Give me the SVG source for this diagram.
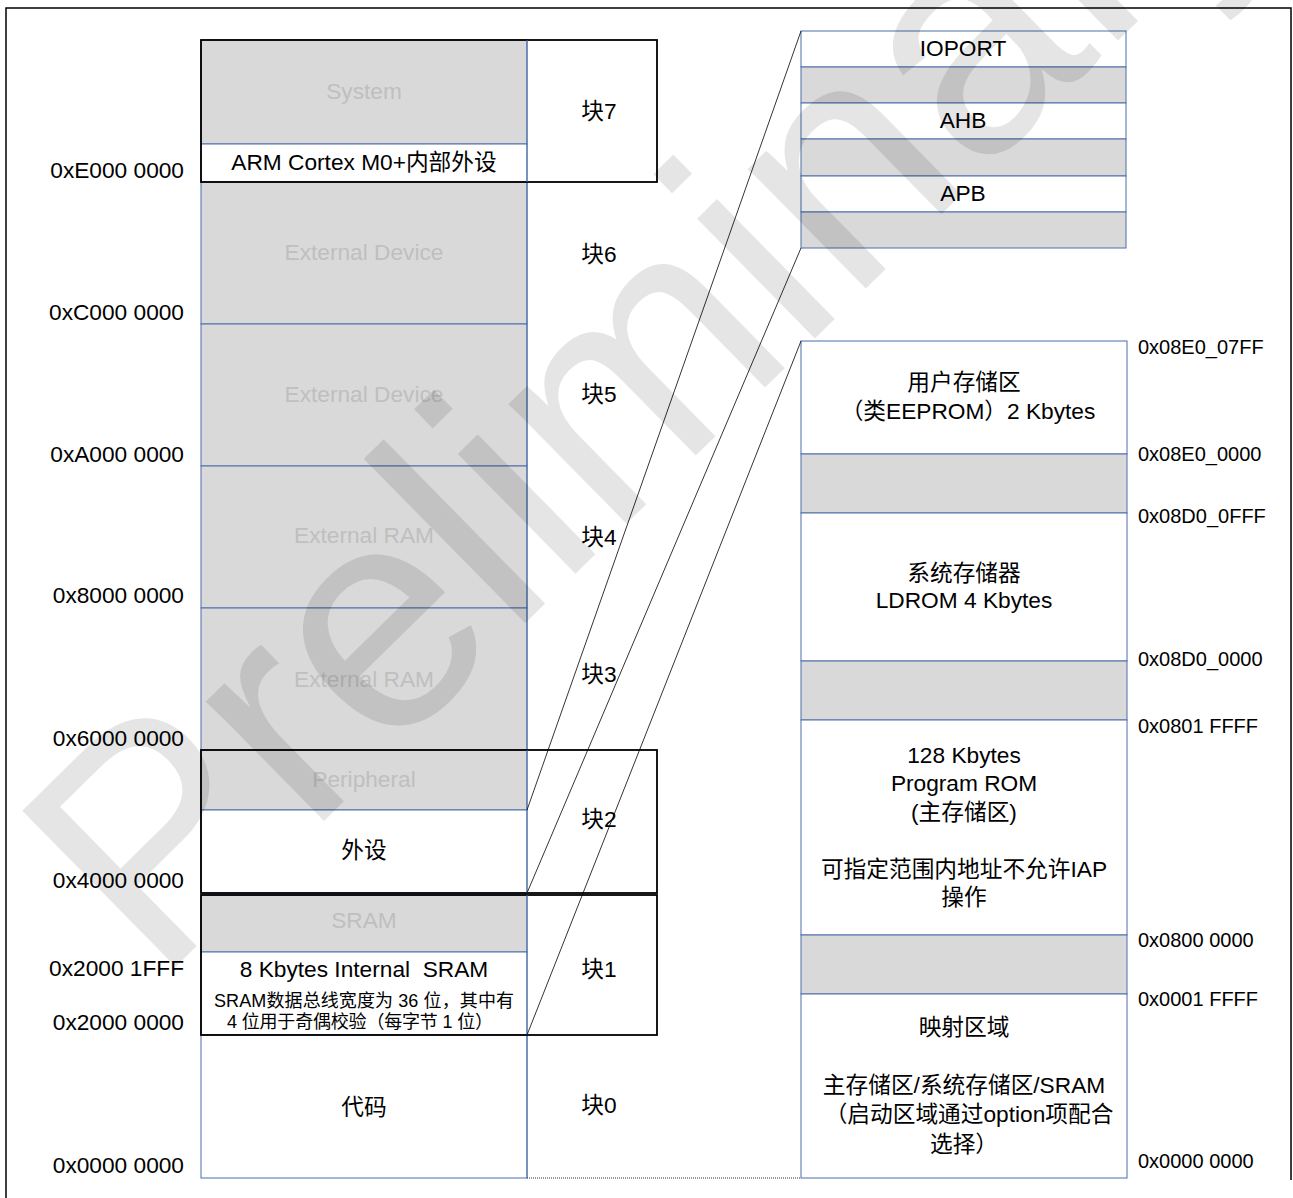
<svg xmlns="http://www.w3.org/2000/svg" width="1293" height="1198" viewBox="0 0 1293 1198">
<style>
text{font-family:"Liberation Sans","Noto Sans CJK SC",sans-serif;fill:#000}
.m{font-size:22.7px;text-anchor:middle}
.a{font-size:22.7px;text-anchor:end}
.r{font-size:20px;text-anchor:start}
.g{fill:#bfbfbf}
.s{font-size:18px;text-anchor:middle}
.gray{fill:#d9d9d9;stroke:#4a6fa8;stroke-width:1}
.wh{fill:#fff;stroke:#4a6fa8;stroke-width:1}
.blk{fill:none;stroke:#000;stroke-width:1.8}
.cn{fill:none;stroke:#000;stroke-width:0.8}
</style>
<rect x="0" y="0" width="1293" height="1198" fill="#fff"/>
<path d="M6 1198V8H1291V1180" fill="none" stroke="#000" stroke-width="1.5"/>

<g id="left-map">
<rect class="gray" x="201" y="40" width="326" height="104"/>
<rect class="wh" x="201" y="144" width="326" height="38"/>
<rect class="gray" x="201" y="182" width="326" height="142"/>
<rect class="gray" x="201" y="324" width="326" height="142"/>
<rect class="gray" x="201" y="466" width="326" height="142"/>
<rect class="gray" x="201" y="608" width="326" height="142"/>
<rect class="gray" x="201" y="750" width="326" height="60"/>
<rect class="wh" x="201" y="810" width="326" height="83"/>
<rect class="gray" x="201" y="895" width="326" height="57"/>
<rect class="wh" x="201" y="952" width="326" height="83"/>
<rect class="wh" x="201" y="1035" width="326" height="143"/>
<line x1="527" y1="182" x2="527" y2="750" stroke="#4a6fa8" stroke-width="1"/>
<line x1="527" y1="1035" x2="527" y2="1178" stroke="#4a6fa8" stroke-width="1"/>
</g>

<g id="block7">
<rect class="blk" x="201" y="40" width="456" height="142"/>
<line x1="527" y1="40" x2="527" y2="182" stroke="#4a6fa8" stroke-width="1"/>
<text class="m g" x="364" y="99">System</text>
<text class="m" x="364" y="170">ARM Cortex M0+内部外设</text>
<text class="m" x="599" y="119">块7</text>
</g>
<g id="block6">
<text class="m g" x="364" y="260">External Device</text>
<text class="m" x="599" y="262">块6</text>
</g>
<g id="block5">
<text class="m g" x="364" y="402">External Device</text>
<text class="m" x="599" y="402">块5</text>
</g>
<g id="block4">
<text class="m g" x="364" y="543">External RAM</text>
<text class="m" x="599" y="545">块4</text>
</g>
<g id="block3">
<text class="m g" x="364" y="687">External RAM</text>
<text class="m" x="599" y="682">块3</text>
</g>
<g id="block2">
<rect class="blk" x="201" y="750" width="456" height="143"/>
<line x1="527" y1="750" x2="527" y2="893" stroke="#4a6fa8" stroke-width="1"/>
<text class="m g" x="364" y="787">Peripheral</text>
<text class="m" x="364" y="858">外设</text>
<text class="m" x="599" y="827">块2</text>
</g>
<g id="block1">
<rect class="blk" x="201" y="895" width="456" height="140"/>
<line x1="527" y1="895" x2="527" y2="1035" stroke="#4a6fa8" stroke-width="1"/>
<text class="m g" x="364" y="928">SRAM</text>
<text class="m" x="364" y="977" xml:space="preserve">8 Kbytes Internal  SRAM</text>
<text class="s" x="364" y="1007" textLength="300">SRAM数据总线宽度为 36 位，其中有</text>
<text class="s" x="360" y="1028" textLength="266">4 位用于奇偶校验（每字节 1 位）</text>
<text class="m" x="599" y="977">块1</text>
</g>
<g id="block0">
<text class="m" x="364" y="1115">代码</text>
<text class="m" x="599" y="1113">块0</text>
</g>

<g id="left-addr">
<text class="a" x="184" y="178">0xE000 0000</text>
<text class="a" x="184" y="320">0xC000 0000</text>
<text class="a" x="184" y="462">0xA000 0000</text>
<text class="a" x="184" y="603">0x8000 0000</text>
<text class="a" x="184" y="746">0x6000 0000</text>
<text class="a" x="184" y="888">0x4000 0000</text>
<text class="a" x="184" y="976">0x2000 1FFF</text>
<text class="a" x="184" y="1030">0x2000 0000</text>
<text class="a" x="184" y="1173">0x0000 0000</text>
</g>

<g id="peripheral-map">
<rect class="wh" x="801" y="31" width="325" height="36"/>
<rect class="gray" x="801" y="67" width="325" height="36"/>
<rect class="wh" x="801" y="103" width="325" height="36"/>
<rect class="gray" x="801" y="139" width="325" height="37"/>
<rect class="wh" x="801" y="176" width="325" height="36"/>
<rect class="gray" x="801" y="212" width="325" height="36"/>
<text class="m" x="963" y="56">IOPORT</text>
<text class="m" x="963" y="128">AHB</text>
<text class="m" x="963" y="201">APB</text>
</g>

<g id="flash-map">
<rect class="wh" x="801" y="341" width="326" height="113"/>
<rect class="gray" x="801" y="454" width="326" height="59"/>
<rect class="wh" x="801" y="513" width="326" height="148"/>
<rect class="gray" x="801" y="661" width="326" height="59"/>
<rect class="wh" x="801" y="720" width="326" height="215"/>
<rect class="gray" x="801" y="935" width="326" height="59"/>
<rect class="wh" x="801" y="994" width="326" height="184"/>
<text class="m" x="964" y="390">用户存储区</text>
<text class="m" x="968" y="419">（类EEPROM）2 Kbytes</text>
<text class="m" x="964" y="581">系统存储器</text>
<text class="m" x="964" y="608">LDROM 4 Kbytes</text>
<text class="m" x="964" y="763">128 Kbytes</text>
<text class="m" x="964" y="791">Program ROM</text>
<text class="m" x="964" y="820">(主存储区)</text>
<text class="m" x="964" y="877">可指定范围内地址不允许IAP</text>
<text class="m" x="964" y="905">操作</text>
<text class="m" x="964" y="1035">映射区域</text>
<text class="m" x="964" y="1093">主存储区/系统存储区/SRAM</text>
<text class="m" x="969" y="1122">（启动区域通过option项配合</text>
<text class="m" x="964" y="1152">选择）</text>
</g>

<g id="right-addr">
<text class="r" x="1138" y="354">0x08E0_07FF</text>
<text class="r" x="1138" y="461">0x08E0_0000</text>
<text class="r" x="1138" y="523">0x08D0_0FFF</text>
<text class="r" x="1138" y="666">0x08D0_0000</text>
<text class="r" x="1138" y="733">0x0801 FFFF</text>
<text class="r" x="1138" y="947">0x0800 0000</text>
<text class="r" x="1138" y="1006">0x0001 FFFF</text>
<text class="r" x="1138" y="1168">0x0000 0000</text>
</g>

<g id="connectors">
<line class="cn" x1="527" y1="810" x2="801" y2="31"/>
<line class="cn" x1="527" y1="893" x2="801" y2="248"/>
<line class="cn" x1="527" y1="1035" x2="801" y2="341"/>
<line x1="527" y1="1178" x2="801" y2="1178" stroke="#333" stroke-width="1" stroke-dasharray="1 1"/>
</g>

<g id="watermark">
<text x="0" y="0" transform="translate(157,985) rotate(-44.5)" style="font-size:318px;fill:#000;fill-opacity:0.1">Preliminary</text>
</g>
</svg>
